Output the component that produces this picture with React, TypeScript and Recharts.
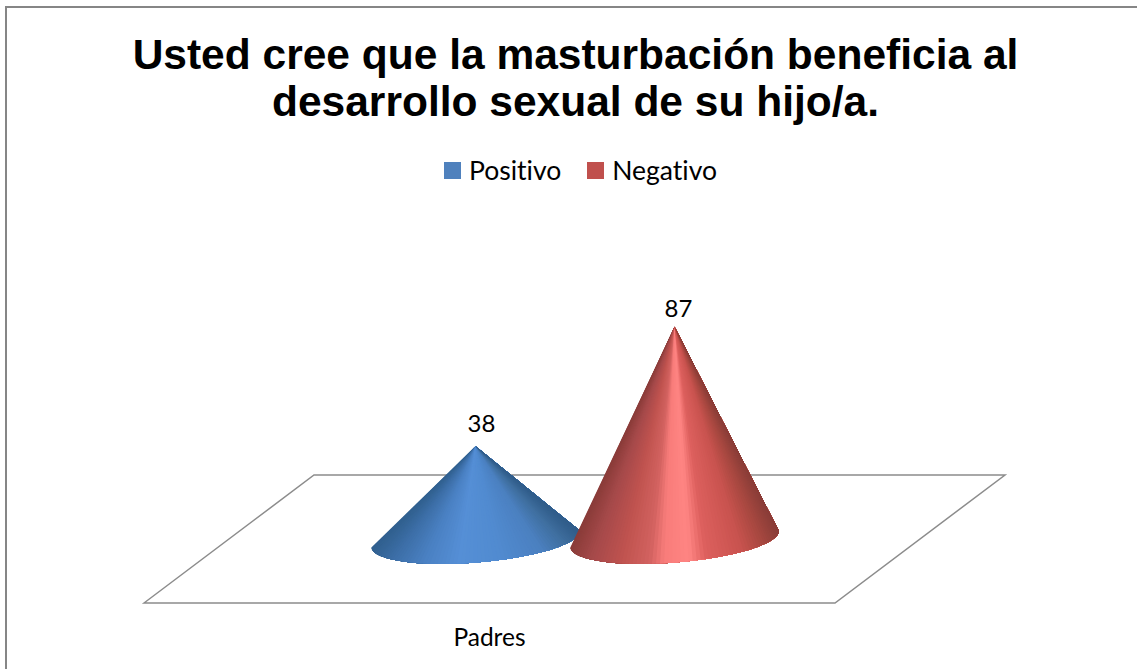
import React from 'react';
import { BarChart, Bar, XAxis, YAxis, Legend, LabelList, ReferenceArea } from 'recharts';

const categories = ['Padres'];
const positivo = [38];
const negativo = [87];
const titleLines = ['Usted cree que la masturbación beneficia al', 'desarrollo sexual de su hijo/a.'];

const data = categories.map((name, i) => ({ name, Positivo: positivo[i], Negativo: negativo[i] }));

// colour stops across the cone, left edge to right edge
const blueStops: [number, string][] = [
  [0, '#31608f'], [0.1, '#3c6ea6'], [0.25, '#4a80c2'], [0.42, '#558fd6'], [0.62, '#518bd0'],
  [0.82, '#4b80c0'], [0.93, '#3f6f9f'], [1, '#315d8a'],
];
const redStops: [number, string][] = [
  [0, '#8a3c39'], [0.1, '#a5494a'], [0.25, '#c0534f'], [0.38, '#d26260'], [0.45, '#f87c7a'],
  [0.57, '#ff8583'], [0.65, '#dd605e'], [0.82, '#c9534f'], [0.93, '#a5473f'], [1, '#8a3d38'],
];

const hex = (c: string) => [1, 3, 5].map((i) => parseInt(c.slice(i, i + 2), 16));

const colorAt = (stops: [number, string][], u: number) => {
  for (let i = 1; i < stops.length; i++) {
    if (u <= stops[i][0]) {
      const t = (u - stops[i - 1][0]) / (stops[i][0] - stops[i - 1][0]);
      const a = hex(stops[i - 1][1]);
      const b = hex(stops[i][1]);
      return `rgb(${a.map((v, k) => Math.round(v + (b[k] - v) * t)).join(',')})`;
    }
  }
  return stops[stops.length - 1][1];
};

// Cone drawn as overlapping fans from the tip to the tilted base ellipse, so no seams show
const Cone = (props: any, stops: [number, string][]) => {
  const { x, y, width, height } = props;
  const cx = x + width / 2;
  const cy = y + height;
  const rx = width / 2;
  const ry = 23.5;
  const tilt = (-4.6 * Math.PI) / 180;
  const point = (th: number) => [
    cx + rx * Math.cos(th) * Math.cos(tilt) - ry * Math.sin(th) * Math.sin(tilt),
    cy + rx * Math.cos(th) * Math.sin(tilt) + ry * Math.sin(th) * Math.cos(tilt),
  ];
  const n = 80;
  const rim = Array.from({ length: n + 1 }, (_, i) => point(Math.PI - (Math.PI * i) / n));
  const wedges = [];
  for (let i = 0; i < n; i++) {
    const u = ((rim[i][0] + rim[i + 1][0]) / 2 - (cx - rx)) / width;
    const col = colorAt(stops, Math.min(1, Math.max(0, u)));
    const d = `M${cx},${y}` + rim.slice(i).map((p) => `L${p[0]},${p[1]}`).join('') + 'Z';
    wedges.push(<path key={i} d={d} fill={col} />);
  }
  return <g>{wedges}</g>;
};

// The floor leans around the plot area: its midline is the bar baseline
const Floor = (props: any) => {
  const { x, width, y, height } = props;
  const base = y + height;
  const dx = 85;
  const dy = 64;
  const pts = [
    [x - dx, base + dy],
    [x + dx, base - dy],
    [x + width + dx, base - dy],
    [x + width - dx, base + dy],
  ];
  return <polygon points={pts.map((p) => p.join(',')).join(' ')} fill="#fff" stroke="#8c8c8c" strokeWidth={1.5} />;
};

const PadresTick = (props: any) => (
  <text x={props.x - 85} y={props.y + 99} textAnchor="middle" fontFamily="Lato" fontSize={24.5} fill="#000">
    {props.payload.value}
  </text>
);

const LegendBox = ({ payload }: any) => (
  <div style={{ display: 'flex', fontFamily: 'Lato', fontSize: 26.5, color: '#000', lineHeight: '30px', fontVariantLigatures: 'none', whiteSpace: 'nowrap' }}>
    {payload.map((p: any, i: number) => (
      <div key={p.value} style={{ display: 'flex', alignItems: 'center', marginRight: i === 0 ? 26 : 0 }}>
        <span style={{ width: 17, height: 17, background: p.color, marginRight: 8 }} />
        {p.value}
      </div>
    ))}
  </div>
);

export default function App() {
  return (
    <div style={{ position: 'absolute', left: 0, top: 0, width: 1137, height: 669, overflow: 'hidden', background: '#fff' }}>
      <div style={{ position: 'absolute', left: 5, top: 6, width: 1200, height: 800, border: '2px solid #868686' }} />
      <div
        style={{
          position: 'absolute', left: 0, top: 31, width: 1151, textAlign: 'center',
          fontFamily: '"Liberation Sans"', fontWeight: 700, fontSize: 42.5, lineHeight: '47px', color: '#000',
        }}
      >
        {titleLines.map((t) => <div key={t}>{t}</div>)}
      </div>
      <BarChart
        width={1137}
        height={669}
        data={data}
        barSize={209}
        barGap={-10}
        margin={{ top: 295, right: 217, bottom: 70, left: 229 }}
        style={{ position: 'absolute', left: 0, top: 0 }}
      >
        <XAxis dataKey="name" height={30} axisLine={false} tickLine={false} tick={PadresTick} />
        <YAxis hide domain={[0, 100]} />
        <ReferenceArea y1={0} y2={100} shape={Floor} ifOverflow="visible" />
        <Legend content={LegendBox} itemSorter={null} wrapperStyle={{ position: 'absolute', left: 444, top: 155, width: 'auto', bottom: 'auto' }} />
        <Bar dataKey="Positivo" fill="#4f81bd" isAnimationActive={false} shape={(p: any) => Cone(p, blueStops)}>
          <LabelList dataKey="Positivo" position="top" offset={14} dx={6} fontFamily="Lato" fontSize={24} fill="#000" />
        </Bar>
        <Bar dataKey="Negativo" fill="#c0504d" isAnimationActive={false} shape={(p: any) => Cone(p, redStops)}>
          <LabelList dataKey="Negativo" position="top" offset={10} dx={4} fontFamily="Lato" fontSize={24} fill="#000" />
        </Bar>
      </BarChart>
    </div>
  );
}
